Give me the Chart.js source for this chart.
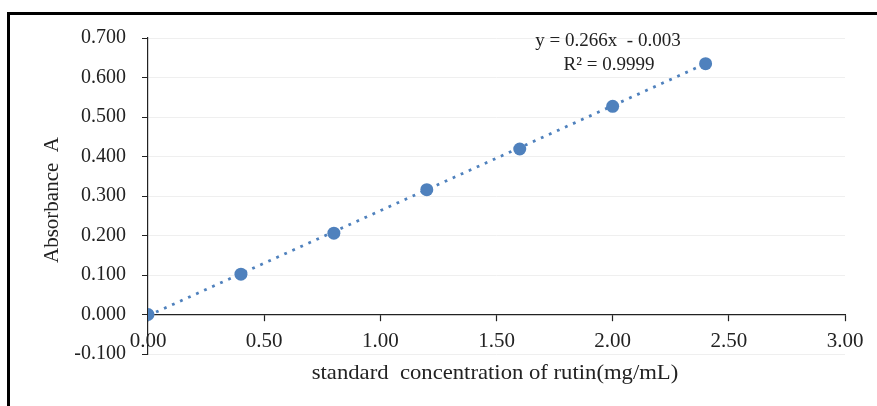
<!DOCTYPE html>
<html>
<head>
<meta charset="utf-8">
<script src="https://cdn.jsdelivr.net/npm/chart.js@4/dist/chart.umd.min.js"></script>
<style>
  html, body { margin: 0; padding: 0; background: #fff; }
  #wrap { width: 877px; height: 406px; position: relative; }
</style>
</head>
<body>
<div id="wrap"><canvas id="c" width="877" height="406"></canvas></div>
<script>
// ---- data ----
const concentrations = [0.0, 0.4, 0.8, 1.2, 1.6, 2.0, 2.4];
const absorbances   = [0.000, 0.102, 0.206, 0.316, 0.419, 0.527, 0.635];
const trendX = [0.0, 2.4];
const trendY = [-0.003, 0.635];
const equationLines = ['y = 0.266x  - 0.003', 'R\u00B2 = 0.9999'];
const xTitle = 'standard  concentration of rutin(mg/mL)';
const yTitle = 'Absorbance  A';

const BLUE = '#4F81BD';
const SERIF = '"Liberation Serif", "Times New Roman", serif';

const framePlugin = {
  id: 'frame',
  beforeDraw(chart) {
    const ctx = chart.ctx;
    ctx.save();
    ctx.fillStyle = '#fff';
    ctx.fillRect(0, 0, chart.width, chart.height);
    ctx.strokeStyle = '#000';
    ctx.lineWidth = 3;
    ctx.beginPath();
    ctx.moveTo(8.5, chart.height + 5);
    ctx.lineTo(8.5, 13.5);
    ctx.lineTo(chart.width + 5, 13.5);
    ctx.stroke();
    ctx.restore();
  },
  afterDraw(chart) {
    const ctx = chart.ctx;
    ctx.save();
    ctx.fillStyle = '#222';
    ctx.font = '21px ' + SERIF;
    ctx.textAlign = 'center';
    ctx.textBaseline = 'middle';
    ctx.save();
    ctx.translate(52, 200);
    ctx.rotate(-Math.PI / 2);
    ctx.fillText(yTitle, 0, 0);
    ctx.restore();
    ctx.font = '21px ' + SERIF;
    ctx.textBaseline = 'alphabetic';
    ctx.save();
    ctx.translate(495, 379);
    ctx.scale(1.08, 1);
    ctx.fillText(xTitle, 0, 0);
    ctx.restore();
    ctx.font = '19px ' + SERIF;
    ctx.fillText(equationLines[0], 608, 46);
    ctx.fillText(equationLines[1], 609, 70);
    ctx.restore();
  }
};

const fmt = (v, d) => (Math.abs(v) < 1e-9 ? 0 : Number(v)).toFixed(d);

new Chart(document.getElementById('c'), {
  type: 'scatter',
  data: {
    datasets: [
      {
        label: 'trend',
        data: trendX.map((x, i) => ({ x: x, y: trendY[i] })),
        showLine: true,
        borderColor: BLUE,
        borderWidth: 2.8,
        borderDash: [2.8, 6],
        pointRadius: 0,
        fill: false,
        order: 2
      },
      {
        label: 'Absorbance',
        data: concentrations.map((x, i) => ({ x: x, y: absorbances[i] })),
        backgroundColor: BLUE,
        borderColor: BLUE,
        pointRadius: 6.5,
        pointBorderWidth: 0,
        showLine: false,
        order: 1
      }
    ]
  },
  options: {
    responsive: false,
    animation: false,
    devicePixelRatio: 1,
    layout: { padding: { left: 10, right: 32, top: 38, bottom: 52 } },
    plugins: { legend: { display: false }, tooltip: { enabled: false } },
    scales: {
      x: {
        type: 'linear',
        position: { y: 0 },
        min: 0, max: 3,
        afterFit(s) { s.height = 35; },
        ticks: {
          stepSize: 0.5,
          color: '#222',
          padding: 8,
          font: { family: SERIF, size: 21 },
          callback: v => fmt(v, 2)
        },
        grid: { drawOnChartArea: false, drawTicks: true, tickLength: 6, color: '#222', tickWidth: 1.2 },
        border: { display: true, color: '#222', width: 1.2 }
      },
      y: {
        type: 'linear',
        position: 'left',
        min: -0.1, max: 0.7,
        afterFit(s) { s.width = 138; },
        ticks: {
          stepSize: 0.1,
          color: '#222',
          padding: 16,
          font: { family: SERIF, size: 20 },
          callback: v => fmt(v, 3)
        },
        grid: {
          color: '#efefef',
          lineWidth: 1,
          drawTicks: true,
          tickLength: 6,
          tickColor: '#222'
        },
        border: { display: true, color: '#222', width: 1.2 }
      }
    }
  },
  plugins: [framePlugin]
});
</script>
</body>
</html>
